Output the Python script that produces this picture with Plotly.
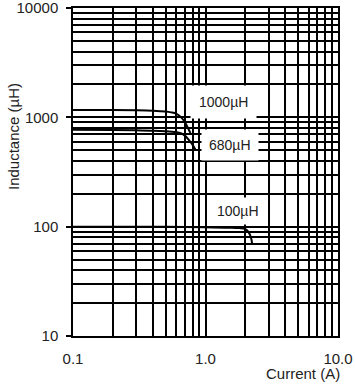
import math
import plotly.graph_objects as go

# Data
current_1000 = [0.1, 0.2, 0.3, 0.4, 0.5, 0.55, 0.6, 0.65, 0.7, 0.74, 0.77]
ind_1000 = [1170, 1165, 1160, 1150, 1130, 1110, 1080, 1010, 900, 790, 720]

current_680 = [0.1, 0.2, 0.3, 0.4, 0.5, 0.6, 0.65, 0.7, 0.75, 0.8, 0.84]
ind_680 = [770, 765, 760, 755, 745, 730, 715, 680, 620, 560, 505]

current_100 = [0.1, 0.5, 1.0, 1.5, 1.8, 2.0, 2.1, 2.2, 2.25]
ind_100 = [100, 100, 99, 98, 97, 95, 90, 80, 70]

series_names = ["1000µH", "680µH", "100µH"]
label_x = [1.36, 1.54, 1.77]
label_y = [1380, 555, 140]

x_major = [0.1, 1, 10]
x_major_text = ["0.1", "1.0", "10.0"]
x_minor = [m * d for d in (0.1, 1) for m in range(2, 10)]
y_major = [10, 100, 1000, 10000]
y_major_text = ["10", "100", "1000", "10000"]
y_minor = [m * d for d in (10, 100, 1000) for m in range(2, 10)]

FONT = "Liberation Sans, Arial, sans-serif"
TXT = "#222222"
LABEL_PAD = [8, 7, 5]

L, R, T, B = 73, 17, 8, 52
W, H = 355, 388
PW, PH = W - L - R, H - T - B

fig = go.Figure()
for xs, ys, name in [(current_1000, ind_1000, series_names[0]),
                     (current_680, ind_680, series_names[1]),
                     (current_100, ind_100, series_names[2])]:
    fig.add_trace(go.Scatter(x=xs, y=ys, mode="lines", name=name,
                             line=dict(color="black", width=2, shape="spline"),
                             showlegend=False))

for name, lx, ly, pad in zip(series_names, label_x, label_y, LABEL_PAD):
    fig.add_annotation(x=math.log10(lx), y=math.log10(ly), xref="x", yref="y",
                       text=name, showarrow=False,
                       font=dict(family=FONT, size=14, color=TXT),
                       bgcolor="white", borderpad=pad)

fig.add_annotation(text="Current (A)", x=(342 - L) / PW, y=-(373 - (H - B)) / PH,
                   xref="paper", yref="paper", xanchor="right", yanchor="middle",
                   showarrow=False, font=dict(family=FONT, size=15, color=TXT))
fig.add_annotation(text="Inductance (µH)", x=-(L - 13) / PW, y=((H - B) - 137) / PH,
                   xref="paper", yref="paper", xanchor="center", yanchor="middle",
                   textangle=-90, showarrow=False,
                   font=dict(family=FONT, size=15, color=TXT))

fig.update_layout(
    width=W, height=H,
    margin=dict(l=L, r=R, t=T, b=B, autoexpand=False),
    paper_bgcolor="white", plot_bgcolor="white",
    xaxis=dict(type="log", range=[-1, 1], tickmode="array", automargin=False,
               tickvals=x_major, ticktext=x_major_text, ticks="",
               ticklabelstandoff=8, ticklabeloverflow="allow",
               tickfont=dict(family=FONT, size=15, color=TXT),
               showline=True, linecolor="black", linewidth=1.5, mirror=True,
               zeroline=False, showgrid=True, gridcolor="black", gridwidth=1.5,
               minor=dict(tickmode="array", tickvals=x_minor, ticks="",
                          showgrid=True, gridcolor="black", gridwidth=1.5)),
    yaxis=dict(type="log", range=[1, 4], tickmode="array", automargin=False,
               tickvals=y_major, ticktext=y_major_text,
               ticks="outside", ticklen=5, tickwidth=1.5, tickcolor="black",
               ticklabelstandoff=5, ticklabeloverflow="allow",
               tickfont=dict(family=FONT, size=15, color=TXT),
               showline=True, linecolor="black", linewidth=1.5, mirror=True,
               zeroline=False, showgrid=True, gridcolor="black", gridwidth=1.5,
               minor=dict(tickmode="array", tickvals=y_minor, ticks="",
                          showgrid=True, gridcolor="black", gridwidth=1.5)),
)

fig.write_html("out.html")
